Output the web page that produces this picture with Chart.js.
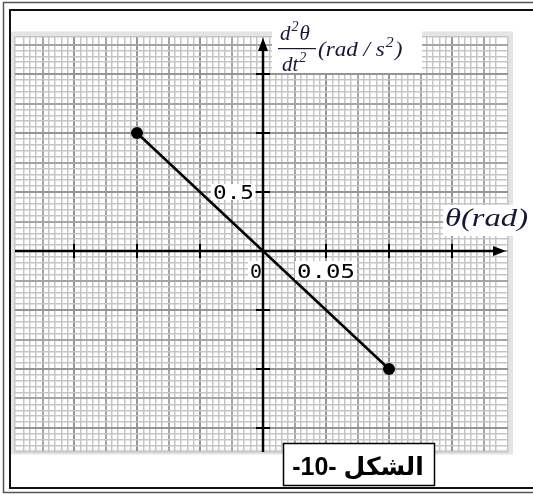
<!DOCTYPE html>
<html><head><meta charset="utf-8">
<script src="https://cdn.jsdelivr.net/npm/chart.js@4"></script>
<style>html,body{margin:0;padding:0;background:#fff;overflow:hidden}canvas{display:block}</style>
</head><body>
<canvas id="c" width="533" height="494"></canvas>
<script>
// ---- data ----
const thetaValues = [-0.1, 0.1];          // θ (rad)
const accelValues = [1.0, -1.0];          // d²θ/dt² (rad/s²)
const xTickMarks = [-0.15, -0.1, -0.05, 0.05, 0.1, 0.15];
const yTickMarks = [-1.5, -1.0, -0.5, 0.5, 1.0, 1.5];
const xTickLabelValues = [0.05];
const xTickLabelTexts = ['0.05'];
const yTickLabelValues = [0.5];
const yTickLabelTexts = ['0.5'];
const originLabel = '0';
const xAxisTitle = 'θ(rad)';
const yTitleNum = ['d', '2', 'θ'];
const yTitleDen = ['dt', '2'];
const yTitleUnit = ['(rad / s', '2', ')'];
const captionText = 'الشكل -10-';

const points = thetaValues.map((t, i) => ({x: t, y: accelValues[i]}));

function gridStyleX(v){ const k = Math.round(v*1000); if (k%50===0) return ['#959595',2]; if (k%25===0) return ['#a5a5a5',2]; return ['#c5c5c5',1.5]; }
function gridStyleY(v){ const k = Math.round(v*100); if (k%50===0) return ['#959595',2]; if (k%25===0) return ['#a5a5a5',2]; return ['#c5c5c5',1.5]; }

function fitText(ctx, text, x, y, w){
  const m = ctx.measureText(text).width;
  ctx.save(); ctx.translate(x, y); ctx.scale(w/m, 1); ctx.fillText(text, 0, 0); ctx.restore();
}
function supText(ctx, parts, x, y, size){
  let cx = x;
  parts.forEach((p, i) => {
    if (i % 2 === 1) {
      ctx.font = 'italic ' + Math.round(size*0.68) + 'px "Liberation Serif", serif';
      ctx.fillText(p, cx + 1, y - size*0.42); cx += ctx.measureText(p).width + 2;
    } else {
      ctx.font = 'italic ' + size + 'px "Liberation Serif", serif';
      ctx.fillText(p, cx, y); cx += ctx.measureText(p).width;
    }
  });
  return cx;
}

const paper = {
  id: 'paper',
  beforeDraw(chart){
    const {ctx, chartArea: a} = chart;
    ctx.save();
    ctx.fillStyle = '#fff'; ctx.fillRect(0,0,chart.width,chart.height);
    ctx.strokeStyle = '#e4e4e4'; ctx.lineWidth = 5;
    ctx.strokeRect(a.left-2.5, a.top-3, a.right-a.left+5, a.bottom-a.top+3);
    ctx.restore();
  },
  beforeDatasetsDraw(chart){
    const {ctx, chartArea: a, scales:{x, y}} = chart;
    const x0 = x.getPixelForValue(0), y0 = y.getPixelForValue(0);
    ctx.save();
    ctx.strokeStyle = '#000'; ctx.fillStyle = '#000'; ctx.lineWidth = 2.5;
    ctx.beginPath(); ctx.moveTo(a.left, y0); ctx.lineTo(a.right-8, y0); ctx.stroke();
    ctx.beginPath(); ctx.moveTo(a.right-2, y0); ctx.lineTo(a.right-15, y0-5); ctx.lineTo(a.right-15, y0+5); ctx.closePath(); ctx.fill();
    ctx.beginPath(); ctx.moveTo(x0, a.bottom); ctx.lineTo(x0, a.top+8); ctx.stroke();
    ctx.beginPath(); ctx.moveTo(x0, a.top+1); ctx.lineTo(x0-5, a.top+14); ctx.lineTo(x0+5, a.top+14); ctx.closePath(); ctx.fill();
    ctx.lineWidth = 2;
    xTickMarks.forEach(v => { const px = x.getPixelForValue(v); ctx.beginPath(); ctx.moveTo(px, y0-7); ctx.lineTo(px, y0+7); ctx.stroke(); });
    yTickMarks.forEach(v => { const py = y.getPixelForValue(v); ctx.beginPath(); ctx.moveTo(x0-7, py); ctx.lineTo(x0+7, py); ctx.stroke(); });
    ctx.restore();
  },
  afterDatasetsDraw(chart){
    const {ctx, chartArea: a, scales:{x, y}} = chart;
    const x0 = x.getPixelForValue(0), y0 = y.getPixelForValue(0);
    ctx.save();
    ctx.font = '19px "DejaVu Sans Mono", monospace';
    ctx.textBaseline = 'alphabetic';
    yTickLabelValues.forEach((v, i) => {
      const py = y.getPixelForValue(v);
      ctx.fillStyle = '#fff'; ctx.fillRect(x0-52, py-8, 44, 16);
      ctx.fillStyle = '#000'; fitText(ctx, yTickLabelTexts[i], x0-50, py+7, 41);
    });
    xTickLabelValues.forEach((v, i) => {
      const px = x.getPixelForValue(v);
      ctx.fillStyle = '#fff'; ctx.fillRect(px-31, y0+10, 62, 19);
      ctx.fillStyle = '#000'; fitText(ctx, xTickLabelTexts[i], px-29, y0+27, 58);
    });
    ctx.fillStyle = '#fff'; ctx.fillRect(x0-15, y0+10, 13, 19);
    ctx.fillStyle = '#000'; fitText(ctx, originLabel, x0-13, y0+27, 12);
    // x title
    ctx.fillStyle = '#fff'; ctx.fillRect(443, y0-46, 90, 31);
    ctx.fillStyle = '#161638';
    ctx.font = 'italic 26px "Liberation Serif", serif';
    fitText(ctx, xAxisTitle, 445, y0-25, 83);
    // y title
    ctx.fillStyle = '#fff'; ctx.fillRect(272, 26, 150, 47);
    ctx.fillStyle = '#161638';
    supText(ctx, yTitleNum, 280, 40, 21);
    supText(ctx, yTitleDen, 282, 71, 21);
    ctx.fillRect(278, 48, 38, 1.2);
    ctx.save(); ctx.translate(318, 56); ctx.scale(1.05, 1);
    supText(ctx, yTitleUnit, 0, 0, 22);
    ctx.restore();
    // caption
    ctx.fillStyle = '#fff'; ctx.fillRect(283, 443, 152, 43);
    ctx.strokeStyle = '#000'; ctx.lineWidth = 1.5; ctx.strokeRect(283.5, 443.5, 151, 42);
    ctx.fillStyle = '#000';
    ctx.font = 'bold 25px "Liberation Sans", "DejaVu Sans", sans-serif';
    ctx.direction = 'rtl'; ctx.textAlign = 'center';
    ctx.fillText(captionText, 358, 475);
    ctx.direction = 'ltr'; ctx.textAlign = 'left';
    // frame
    ctx.strokeStyle = '#555'; ctx.lineWidth = 1.5;
    ctx.beginPath(); ctx.moveTo(540, 2.5); ctx.lineTo(3.5, 2.5); ctx.lineTo(3.5, 492.5); ctx.lineTo(540, 492.5); ctx.stroke();
    ctx.strokeStyle = '#111'; ctx.lineWidth = 2;
    ctx.beginPath(); ctx.moveTo(540, 10); ctx.lineTo(10, 10); ctx.lineTo(10, 488); ctx.lineTo(540, 488); ctx.stroke();
    ctx.restore();
  }
};

new Chart(document.getElementById('c'), {
  type: 'scatter',
  data: { datasets: [{
    data: points, showLine: true, borderColor: '#000', borderWidth: 2.5,
    pointRadius: 6, pointBackgroundColor: '#000', pointBorderColor: '#000', pointBorderWidth: 0
  }]},
  options: {
    responsive: false, animation: false, devicePixelRatio: 1,
    layout: { padding: { left: 15, top: 37, right: 25, bottom: 42 } },
    plugins: { legend: { display: false }, tooltip: { enabled: false } },
    scales: {
      x: { type: 'linear', min: -0.19683, max: 0.19444,
           ticks: { display: false, stepSize: 0.005 },
           border: { display: false },
           grid: { drawTicks: false, color: c => gridStyleX(c.tick.value)[0], lineWidth: c => gridStyleX(c.tick.value)[1] } },
      y: { type: 'linear', min: -1.7034, max: 1.8136,
           ticks: { display: false, stepSize: 0.05 },
           border: { display: false },
           grid: { drawTicks: false, color: c => gridStyleY(c.tick.value)[0], lineWidth: c => gridStyleY(c.tick.value)[1] } }
    }
  },
  plugins: [paper]
});
</script>
</body></html>
